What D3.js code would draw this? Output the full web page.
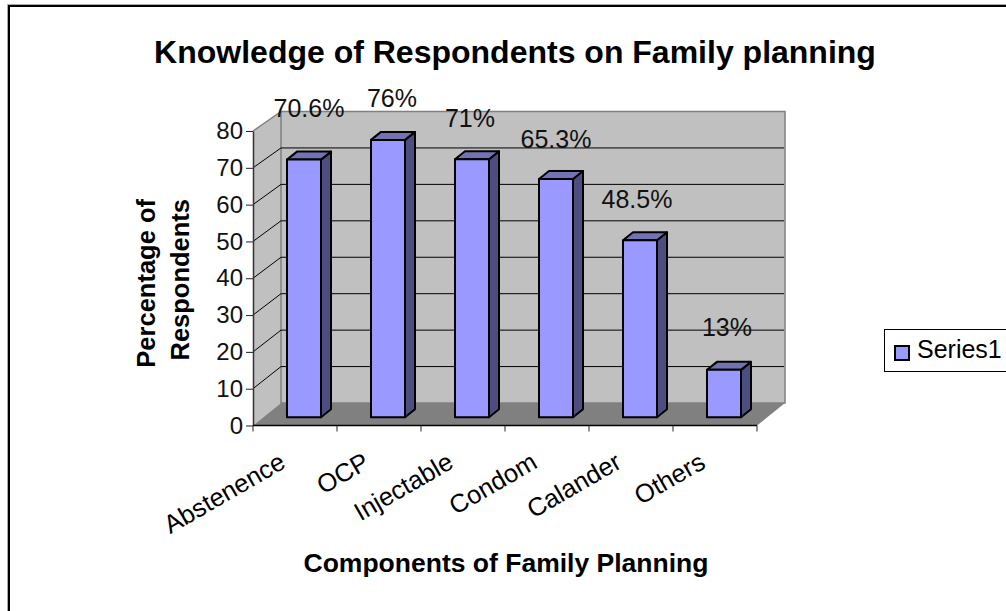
<!DOCTYPE html>
<html>
<head>
<meta charset="utf-8">
<script src="https://cdn.jsdelivr.net/npm/d3@7"></script>
<style>
  html, body { margin: 0; padding: 0; background: #fff; overflow: hidden; }
  svg { display: block; font-family: "Liberation Sans", Arial, sans-serif; }
</style>
</head>
<body>
<script>
var categories = ['Abstenence', 'OCP', 'Injectable', 'Condom', 'Calander', 'Others'];
var values = [70.6, 76, 70.7, 65.3, 48.5, 13];
var valueLabels = ['70.6%', '76%', '71%', '65.3%', '48.5%', '13%'];
var yTicks = [0, 10, 20, 30, 40, 50, 60, 70, 80];
var seriesName = 'Series1';

var width = 1006,
    height = 611;

var depth = 28,
    barDepth = {x: 10, y: -8};

/* hand placed data labels in the original, offset from the top middle of each bar */
var labelNudge = [[5, -43], [4, -33], [-2, -32], [0, -31], [-3, -32], [3, -33.5]];

var svg = d3.select('body').append('svg')
    .attr('width', width)
    .attr('height', height);

/* outer frame, only top and left are in the picture */
svg.append('polyline')
    .attr('points', '7.5,' + height + ' 7.5,4.5 ' + width + ',4.5')
    .attr('fill', 'none').attr('stroke', '#aaa').attr('stroke-width', 1);
svg.append('polyline')
    .attr('points', '9,' + height + ' 9,6 ' + width + ',6')
    .attr('fill', 'none').attr('stroke', '#000').attr('stroke-width', 2);

/* scales: axis on the front edge of the floor, wall behind it */
var x = d3.scaleBand().domain(categories).range([253, 757]);
var y = d3.scaleLinear().domain([0, 80]).range([425.5, 131]);
var backY = d3.scaleLinear().domain([0, 80]).range([403, 111.5]);
var barX = d3.scaleBand().domain(categories).range([262, 766])
    .paddingInner(50 / 84).paddingOuter(25 / 84);
var barY = d3.scaleLinear().domain([0, 80]).range([417.3, 125.3]);

var x0 = x.range()[0], x1 = x.range()[1];

function pts(a) { return a.map(p => p.join(',')).join(' '); }

/* walls and floor */
svg.append('polygon')
    .attr('points', pts([[x0, y(0)], [x0 + depth, backY(0)], [x0 + depth, backY(80)], [x0, y(80)]]))
    .attr('fill', '#c0c0c0');
svg.append('polygon')
    .attr('points', pts([[x0 + depth, backY(0)], [x1 + depth, backY(0)], [x1 + depth, backY(80)], [x0 + depth, backY(80)]]))
    .attr('fill', '#c0c0c0')
    .attr('stroke', '#808080').attr('stroke-width', 1.5);
svg.append('polygon')
    .attr('points', pts([[x0, y(0)], [x1, y(0)], [x1 + depth, backY(0)], [x0 + depth, backY(0)]]))
    .attr('fill', '#808080');
svg.append('polyline')
    .attr('points', pts([[x0, y(80)], [x0 + depth, backY(80)]]))
    .attr('fill', 'none').attr('stroke', '#808080').attr('stroke-width', 1.5);

/* gridlines run along the side wall and back wall */
svg.append('g').selectAll('polyline')
    .data(yTicks.filter(d => d > 0 && d < 80))
    .enter().append('polyline')
        .attr('points', d => pts([[x0, y(d)], [x0 + depth, backY(d)], [x1 + depth - 1, backY(d)]]))
        .attr('fill', 'none').attr('stroke', '#000').attr('stroke-width', 1);

/* axes */
var yAxis = svg.append('g')
    .attr('transform', 'translate(' + x0 + ',0)')
    .call(d3.axisLeft(y).tickValues(yTicks).tickSize(7).tickSizeOuter(0).tickPadding(3));
yAxis.selectAll('text').attr('font-size', 24).attr('font-family', 'Liberation Sans').attr('fill', '#111');
yAxis.selectAll('line').attr('stroke', '#222').attr('stroke-width', 1);
yAxis.select('path').attr('stroke', '#333').attr('stroke-width', 1.5);

var xTickValues = d3.range(categories.length + 1).map(i => x0 + i * x.step());
svg.append('line').attr('x1', x0).attr('x2', x1).attr('y1', y(0)).attr('y2', y(0))
    .attr('stroke', '#000').attr('stroke-width', 1.5);
svg.append('g').selectAll('line').data(xTickValues).enter().append('line')
    .attr('x1', d => d).attr('x2', d => d)
    .attr('y1', y(0)).attr('y2', y(0) + 6)
    .attr('stroke', '#222');

svg.append('g').selectAll('text').data(categories).enter().append('text')
    .attr('transform', d => 'translate(' + (x(d) + 34) + ',467) rotate(-30)')
    .attr('text-anchor', 'end')
    .attr('font-size', 25.5)
    .text(d => d);

/* bars */
var bars = svg.append('g').selectAll('g')
    .data(categories.map((c, i) => ({c: c, v: values[i], label: valueLabels[i], nudge: labelNudge[i]})))
    .enter().append('g');

bars.append('polygon')
    .attr('points', d => {
        var r = barX(d.c) + barX.bandwidth(), t = barY(d.v), b = barY(0);
        return pts([[r, b], [r + barDepth.x, b + barDepth.y], [r + barDepth.x, t + barDepth.y], [r, t]]);
    })
    .attr('fill', '#4d4d80');
bars.append('polygon')
    .attr('points', d => {
        var l = barX(d.c), r = l + barX.bandwidth(), t = barY(d.v);
        return pts([[l, t], [r, t], [r + barDepth.x, t + barDepth.y], [l + barDepth.x, t + barDepth.y]]);
    })
    .attr('fill', '#7373b3');
bars.append('rect')
    .attr('x', d => barX(d.c))
    .attr('y', d => barY(d.v))
    .attr('width', barX.bandwidth())
    .attr('height', d => barY(0) - barY(d.v))
    .attr('fill', '#9999ff');
bars.selectAll('polygon, rect')
    .attr('stroke', '#000').attr('stroke-width', 2).attr('stroke-linejoin', 'round');

bars.append('text')
    .attr('x', d => barX(d.c) + barX.bandwidth() / 2 + d.nudge[0])
    .attr('y', d => barY(d.v) + d.nudge[1])
    .attr('text-anchor', 'middle')
    .attr('font-size', 25)
    .attr('fill', '#111')
    .text(d => d.label);

/* titles */
svg.append('text')
    .attr('x', 515).attr('y', 63)
    .attr('text-anchor', 'middle')
    .attr('font-size', 32).attr('font-weight', 'bold')
    .text('Knowledge of Respondents on Family planning');

svg.append('text')
    .attr('x', 506).attr('y', 572)
    .attr('text-anchor', 'middle')
    .attr('font-size', 26.5).attr('font-weight', 'bold')
    .text('Components of Family Planning');

var yTitle = svg.append('text')
    .attr('transform', 'translate(0,199) rotate(-90)')
    .attr('text-anchor', 'end')
    .attr('font-size', 25.5).attr('font-weight', 'bold');
yTitle.append('tspan').attr('x', 0).attr('y', 155).text('Percentage of');
yTitle.append('tspan').attr('x', 0).attr('y', 189).text('Respondents');

/* legend */
var legend = svg.append('g');
legend.append('rect')
    .attr('x', 884.5).attr('y', 329.5)
    .attr('width', 130).attr('height', 42)
    .attr('fill', '#fff').attr('stroke', '#000');
legend.append('rect')
    .attr('x', 895).attr('y', 346)
    .attr('width', 14).attr('height', 14)
    .attr('fill', '#9999ff').attr('stroke', '#000').attr('stroke-width', 2);
legend.append('text')
    .attr('x', 917).attr('y', 358)
    .attr('font-size', 25)
    .text(seriesName);
</script>
</body>
</html>
